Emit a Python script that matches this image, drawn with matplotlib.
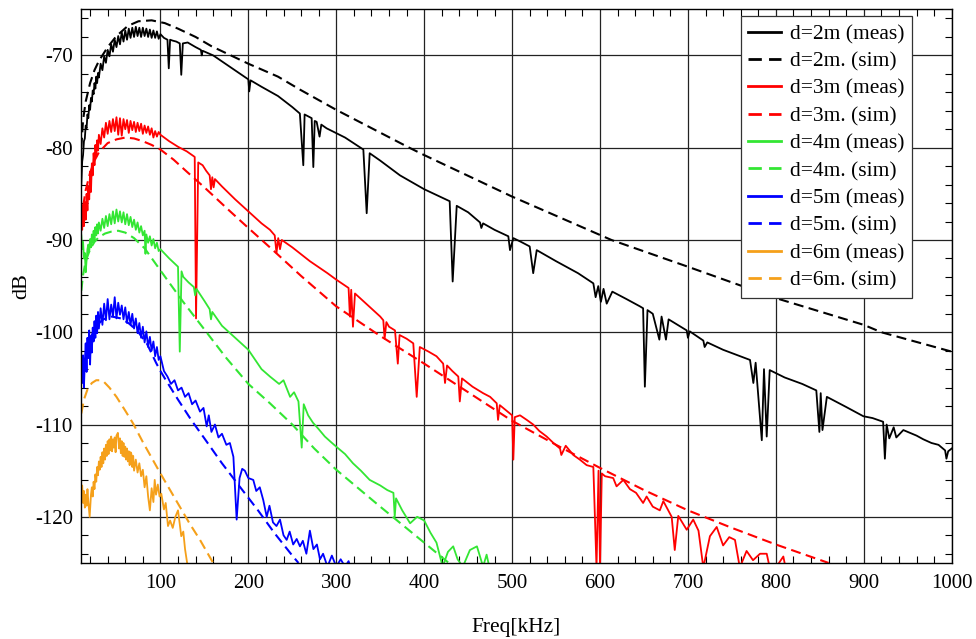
import matplotlib
matplotlib.use("Agg")
import matplotlib.pyplot as plt
from matplotlib.ticker import MultipleLocator

# ---- data (frequency in kHz, level in dB) ----
bk_meas_f = [10, 11, 12, 13, 14, 15, 16, 17, 18, 19, 20, 21, 22, 23, 24, 25, 26, 27, 28, 29, 30,
             32, 34, 36, 38, 40, 42, 44, 46, 48, 50, 52, 54, 56, 58, 60, 62, 64, 66, 68, 70,
             72, 74, 76, 78, 80, 82, 84, 86, 88, 90, 92, 94, 96, 98, 100,
             104, 108, 109.5, 111, 114, 118, 122, 123.7, 125.5, 131, 140, 146, 147, 148, 160,
             180, 200, 201, 202.5, 215, 233.7, 250, 258.6, 262.5, 264, 266, 272, 273.9, 275.5,
             277.7, 281, 283, 289, 310, 330.8, 334.6, 338, 350, 372.5, 400, 429, 432.4, 437,
             450, 463.5, 465, 467, 480, 495.7, 497.6, 501.4, 510, 520, 524, 528, 550, 575,
             592.4, 595, 598, 601, 604, 607.6, 614, 630, 645.5, 649, 651, 654, 660, 667.5,
             670, 675, 678, 690, 698.6, 700, 702, 717.5, 719, 722, 740, 770.6, 774.4, 777,
             784, 786.5, 789.6, 793, 810, 830, 846, 849.5, 851, 853, 858, 880, 899.5, 910,
             922, 924, 926, 929, 934, 937, 945, 960, 967.7, 977, 985, 992.5, 994, 996, 1000]
bk_meas_db = [-84.0, -81.5, -80.8, -79.3, -79.0, -77.6, -77.9, -76.4, -76.8, -75.4, -75.9, -74.6,
              -75.0, -73.8, -74.2, -73.0, -73.6, -72.3, -73.0, -71.9, -72.4,
              -70.9, -71.6, -70.1, -70.8, -69.4, -70.1, -68.8, -69.6, -68.3, -69.1, -67.9, -68.8,
              -67.5, -68.5, -67.3, -68.3, -67.1, -68.1, -67.0, -68.0,
              -66.9, -67.9, -67.0, -68.0, -67.0, -67.9, -67.1, -68.0, -67.2, -68.1, -67.3, -68.1,
              -67.4, -68.2, -67.7,
              -68.1, -68.3, -71.4, -68.3, -68.4, -68.5, -68.7, -72.1, -68.7, -68.6, -69.1, -69.4,
              -70.0, -69.5, -70.0,
              -71.3, -72.6, -73.9, -72.7, -73.4, -74.4, -75.6, -76.3, -81.9, -76.4, -76.5, -76.8,
              -82.1, -77.1,
              -77.2, -78.8, -77.5, -77.9, -78.9, -80.2, -87.1, -80.6, -81.4, -83.0, -84.5, -85.8,
              -94.5, -86.3,
              -87.0, -88.1, -88.7, -88.2, -88.9, -89.6, -91.1, -89.8, -90.2, -90.7, -93.6, -91.1,
              -92.3, -93.6,
              -94.7, -96.2, -95.0, -96.7, -95.3, -96.9, -95.6, -96.4, -97.2, -97.4, -105.9, -97.6,
              -98.0, -100.8,
              -98.3, -100.8, -98.6, -99.3, -99.8, -100.6, -99.9, -100.9, -101.6, -101.1, -101.9,
              -103.0, -105.5, -103.3,
              -111.7, -104.0, -111.3, -104.1, -104.9, -105.6, -106.3, -110.8, -106.6, -110.6,
              -107.0, -108.1, -109.1, -109.3,
              -109.7, -113.7, -110.0, -111.5, -110.3, -111.4, -110.6, -111.2, -111.6, -112.0,
              -112.2, -112.8, -113.7, -112.9, -112.6]

bk_sim_f = [10, 12, 15, 20, 25, 30, 40, 50, 63, 75, 90, 105, 120, 140, 158, 200, 233.7, 258.6,
            300, 383, 400, 500, 613, 700, 800, 900, 920, 1000]
bk_sim_db = [-80.0, -77.0, -75.0, -73.0, -71.6, -70.6, -69.1, -67.9, -66.8, -66.3, -66.2, -66.5,
             -67.1, -68.0, -69.0, -70.9, -72.3, -73.7, -75.9, -80.0, -80.8, -85.3, -90.0, -92.9,
             -96.3, -99.2, -100.0, -102.1]

rd_meas_f = [10, 11, 12, 13, 14, 15, 16, 17, 18, 19, 20, 21, 22, 23, 24, 25, 26, 27, 28, 29, 30,
             32, 34, 36, 38, 40, 42, 44, 46, 48, 50, 52, 54, 56, 58, 60, 62, 64, 66, 68, 70,
             72, 74, 76, 78, 80, 82, 84, 86, 88, 90, 92, 94, 96, 98, 100,
             110, 120, 130, 139, 140.5, 143, 148, 152, 156, 157.5, 159, 160.5, 162, 170, 185,
             200, 215, 224.6, 230, 232, 234, 236, 238, 250, 270, 290, 300, 314, 315.5, 317,
             319, 321.3, 335, 350, 353.5, 355, 357, 360, 366.8, 370, 372, 380, 387.6, 391.5,
             395, 405, 414, 421.6, 423.7, 426, 432, 438.8, 440.5, 443, 455, 467, 475, 482.5,
             484, 486, 495, 500, 501.4, 503,
             509, 516.7, 524, 531, 539.3, 547, 554.5, 556, 561, 569.6, 577, 584.8, 592.4, 596,
             598.3, 600, 602, 605.7, 615, 618.8, 626.5, 634, 641, 649, 653, 660, 668, 672,
             681.5, 685, 689, 698.6, 706, 712, 717.5, 725, 732.7, 740, 747, 753.5, 759, 766.7,
             774, 782, 789.6, 793, 800, 808.5, 811]
rd_meas_db = [-87.0, -88.9, -86.2, -88.5, -85.9, -87.8, -85.0, -86.8, -84.2, -85.6, -82.6, -84.8,
              -81.7, -83.0, -80.6, -81.9, -79.7, -81.0, -79.2, -80.3, -78.6,
              -79.6, -77.9, -78.9, -77.3, -78.5, -77.1, -78.3, -76.9, -78.2, -76.7, -78.6, -76.8,
              -78.7, -76.9, -78.0, -77.0, -78.4, -77.1, -78.1, -77.2,
              -78.3, -77.3, -78.2, -77.4, -78.5, -77.6, -78.4, -77.7, -78.6, -77.9, -78.9, -78.2,
              -78.8, -78.3, -78.6,
              -79.3, -79.9, -80.4, -81.0, -98.5, -81.6, -81.9, -82.5, -83.0, -84.5, -83.2, -84.3,
              -83.4, -84.2, -85.6,
              -86.9, -88.2, -88.9, -89.5, -91.4, -89.8, -91.0, -90.0, -90.8, -92.3, -93.6, -94.3,
              -95.2, -98.3, -95.4,
              -99.4, -95.8, -97.0, -98.3, -98.7, -100.7, -98.9, -99.4, -99.8, -103.4, -100.3,
              -100.7, -101.2, -107.0,
              -101.6, -102.1, -102.6, -103.4, -105.5, -103.6, -104.2, -104.8, -107.5, -105.0,
              -105.9, -106.6, -107.0, -107.7,
              -109.5, -107.9, -108.6, -109.0, -113.8, -109.2,
              -109.0, -109.5, -110.0, -110.7, -111.3, -112.0, -112.6, -113.3, -112.3, -113.3,
              -113.8, -114.4, -114.6, -125.5,
              -115.0, -125.5, -115.3, -115.6, -115.8, -116.7, -116.0, -117.0, -117.4, -118.5,
              -117.8, -118.9, -119.3, -118.3,
              -120.0, -123.6, -119.9, -121.4, -120.3, -121.5, -125.5, -122.1, -121.1, -123.1,
              -122.2, -122.5, -125.5, -123.7,
              -124.7, -124.0, -124.0, -125.5, -125.5, -124.3, -125.5]

rd_sim_f = [10, 12, 15, 20, 25, 30, 40, 50, 60, 70, 80, 90, 100, 115, 130, 150, 177, 200, 228,
            260, 300, 350, 400, 450, 500, 550, 600, 650, 700, 750, 800, 860]
rd_sim_db = [-88.0, -86.4, -84.6, -82.7, -81.4, -80.5, -79.5, -79.1, -78.9, -79.0, -79.3, -79.7,
             -80.2, -81.3, -82.6, -84.3, -86.7, -88.7, -91.1, -93.9, -97.2, -100.4, -103.4,
             -106.5, -109.6, -112.2, -114.7, -117.1, -119.3, -121.2, -123.0, -125.0]

gr_meas_f = [10, 11, 12, 13, 14, 15, 16, 17, 18, 19, 20, 21, 22, 23, 24, 25, 26, 27, 28, 29, 30,
             32, 34, 36, 38, 40, 42, 44, 46, 48, 50, 52, 54, 56, 58, 60, 62, 64, 66, 68, 70,
             72, 74, 76, 78, 80, 82, 83, 84, 86, 88, 90, 92, 94, 96, 98, 100,
             110, 120, 122, 124, 126, 132, 138, 139.5, 141, 150, 156, 157.5, 159, 170, 185,
             200, 215, 224.6, 235, 240, 247.5, 252, 257, 260.7, 263, 268, 273.5, 280, 287,
             294, 300, 310, 319, 328, 338, 350, 358, 365, 366.5, 368, 375, 384, 392, 400, 407,
             414, 421, 427, 433, 438, 444, 452, 460, 467, 471, 474]
gr_meas_db = [-89.5, -91.0, -90.2, -92.0, -91.4, -93.5, -92.2, -91.0, -90.5, -91.3, -89.9, -90.8,
              -89.4, -90.3, -89.0, -90.0, -88.6, -89.5, -88.3, -89.3, -88.1,
              -89.0, -87.7, -88.7, -87.4, -88.5, -87.2, -88.3, -86.9, -88.2, -86.7, -88.0, -86.9,
              -88.1, -87.0, -88.3, -87.2, -88.4, -87.5, -88.6, -87.8,
              -88.9, -88.1, -89.2, -88.5, -89.5, -89.0, -91.5, -89.4, -90.3, -89.6, -90.6, -89.9,
              -90.9, -90.3, -91.2, -91.0,
              -92.0, -92.9, -102.1, -93.4, -94.0, -94.6, -95.1, -96.0, -95.3, -96.6, -97.5, -98.6,
              -97.8, -99.3, -100.6,
              -101.9, -104.0, -104.8, -105.6, -105.2, -107.0, -106.5, -107.5, -112.5, -107.8,
              -109.0, -109.8, -110.5, -111.3,
              -111.9, -112.4, -113.2, -114.2, -115.0, -116.0, -116.6, -117.1, -117.4, -120.0,
              -118.0, -119.3, -120.7, -120.0, -120.4, -121.7,
              -122.8, -125.4, -123.8, -123.2, -124.6, -125.4, -123.6, -123.2, -125.4, -124.1,
              -125.4]

gr_sim_f = [10, 12, 15, 20, 25, 30, 37, 44, 52, 60, 70, 82, 100, 125, 150, 175, 200, 224.6, 250,
            275, 300, 350, 400, 428]
gr_sim_db = [-95.5, -93.8, -92.3, -91.0, -90.2, -89.7, -89.3, -89.1, -89.0, -89.2, -89.8, -90.9,
             -93.3, -96.6, -99.7, -102.8, -105.6, -107.7, -110.0, -112.6, -114.9, -118.9,
             -122.8, -125.0]

bl_meas_f = [10, 11, 12, 13, 14, 15, 16, 17, 18, 19, 20, 21, 22, 23, 24, 25, 26, 27, 28, 29, 30,
             32, 34, 36, 38, 40, 42, 44, 46, 48, 50, 52, 54, 56, 58, 60, 62, 64, 66, 68, 70,
             72, 74, 76, 78, 80, 82, 84, 86, 88, 90, 92, 94, 96, 98, 100,
             104, 108, 112, 116, 120, 124, 128, 132, 136, 140, 145, 149, 152.6, 155, 158, 162,
             166, 170, 175, 179, 183, 186.7, 190, 193, 196, 200, 205.6, 209, 213, 217, 220.9,
             224, 228, 232, 236, 240, 243.6, 247, 251, 255, 258.7, 262, 266, 270, 274, 278,
             281.5, 285, 290, 295, 300, 305, 310, 314, 316]
bl_meas_db = [-103.0, -105.5, -102.5, -106.0, -103.2, -101.2, -104.3, -100.6, -102.8, -99.8,
              -103.5, -100.4, -102.2, -99.5, -101.0, -98.8, -100.6, -98.2, -100.1, -97.8, -99.6,
              -97.4, -99.2, -96.9, -98.7, -96.4, -98.6, -97.0, -98.3, -96.2, -98.5, -96.8, -98.1,
              -97.1, -98.6, -97.3, -99.0, -97.8, -99.2, -98.0, -99.6,
              -98.5, -100.1, -99.0, -100.6, -99.4, -101.1, -99.9, -101.6, -100.5, -102.0, -101.0,
              -102.6, -101.6, -103.0, -102.6,
              -104.2, -104.8, -105.6, -105.2, -106.3, -106.0, -107.0, -106.6, -107.8, -107.4,
              -108.6, -108.2, -110.2, -109.0, -110.8, -110.0,
              -111.4, -111.0, -112.2, -112.0, -113.5, -120.3, -115.8, -114.8, -115.0, -115.8,
              -116.0, -117.2, -116.8, -118.2, -120.0,
              -118.8, -120.6, -121.0, -120.3, -122.0, -122.5, -121.6, -123.0, -122.4, -123.2,
              -122.6, -124.0, -121.5, -123.5, -123.0,
              -124.6, -124.0, -125.4, -124.2, -125.4, -124.6, -125.4, -124.8, -125.4]

bl_sim_f = [10, 13, 17, 22, 28, 35, 45, 55, 65, 75, 85, 95, 100, 105, 120, 135, 150, 170, 190,
            211, 230, 250, 257]
bl_sim_db = [-105.5, -103.5, -101.8, -100.3, -99.2, -98.6, -98.3, -98.5, -99.1, -100.0, -101.3,
             -103.3, -104.2, -105.0, -107.3, -109.5, -111.5, -114.2, -116.7, -119.3, -121.8,
             -124.2, -125.0]

or_meas_f = [10, 11, 12, 13, 14, 15, 16, 17, 18, 19.5, 21, 22, 23, 24, 25, 26, 27, 28, 29, 30,
             31, 32, 33, 34, 35, 36, 37, 38, 39, 40, 41, 42, 43, 44, 45, 46, 47, 48, 49, 50,
             51.6, 53, 54, 55, 56, 57, 58, 59, 60, 61, 62, 63, 64, 65, 66, 67, 68, 69, 70,
             72, 74, 76, 78, 80, 82, 84, 86, 88, 90, 92, 93.5, 95, 97, 99, 101, 104, 106,
             108.6, 111, 114, 117, 120, 122, 123.7, 126, 128, 131]
or_meas_db = [-117.4, -116.6, -118.5, -117.2, -119.0, -117.6, -118.8, -117.0, -118.4, -120.0,
              -117.6, -116.8, -117.8, -116.2, -117.0, -115.4, -116.2, -114.6, -115.5, -114.0,
              -114.9, -113.5, -114.6, -113.0, -114.2, -112.6, -113.8, -112.2, -113.4, -111.8,
              -113.2, -111.6, -112.8, -111.3, -112.9, -111.6, -112.5, -111.4, -113.0, -111.2,
              -110.9, -112.6, -111.5, -113.1, -111.8, -113.4, -112.0, -113.5, -112.4, -113.8,
              -112.6, -114.0, -112.9, -114.4, -113.0, -113.2, -114.6, -113.4, -115.0,
              -113.8, -115.2, -114.2, -115.6, -114.9, -116.8, -115.6, -117.8, -119.3, -116.9,
              -118.4, -116.0, -117.6, -116.5, -117.8, -117.5, -119.2, -118.5,
              -121.0, -120.4, -121.2, -120.0, -119.3, -120.8, -122.1, -121.6, -123.5, -125.4]

or_sim_f = [10, 13, 17, 22, 27, 31, 36, 42, 50, 60, 69, 80, 90, 100, 111, 122, 133, 145, 160]
or_sim_db = [-108.8, -107.3, -106.2, -105.5, -105.2, -105.2, -105.4, -106.0, -107.0, -108.5,
             -109.9, -111.9, -113.6, -115.3, -117.1, -118.9, -120.7, -122.5, -125.0]

distances = ["2", "3", "4", "5", "6"]
colors = ["black", "#ff0000", "#33e633", "#0000ff", "#f5a01a"]

plt.rcParams["font.family"] = ["Liberation Serif", "DejaVu Serif"]
plt.rcParams["axes.unicode_minus"] = False

fig = plt.figure(figsize=(9.76, 6.39), dpi=100)
ax = fig.add_axes([0.0833, 0.119, 0.8918, 0.8665])

series = [
    (bk_meas_f, bk_meas_db, bk_sim_f, bk_sim_db),
    (rd_meas_f, rd_meas_db, rd_sim_f, rd_sim_db),
    (gr_meas_f, gr_meas_db, gr_sim_f, gr_sim_db),
    (bl_meas_f, bl_meas_db, bl_sim_f, bl_sim_db),
    (or_meas_f, or_meas_db, or_sim_f, or_sim_db),
]

for d, c, (mf, mdb, sf, sdb) in zip(distances, colors, series):
    ax.plot(mf, mdb, color=c, lw=1.3, label=f"d={d}m (meas)")
    ax.plot(sf, sdb, color=c, lw=1.5, dashes=(4.8, 2.6), label=f"d={d}m. (sim)")

ax.set_xlim(10, 1000)
ax.set_ylim(-125, -65)
ax.xaxis.set_major_locator(MultipleLocator(100))
ax.xaxis.set_minor_locator(MultipleLocator(20))
ax.yaxis.set_major_locator(MultipleLocator(10))
ax.yaxis.set_minor_locator(MultipleLocator(2))
ax.grid(True, which="major", color="#222222", lw=0.9)
ax.tick_params(which="both", direction="in", top=True, right=True, labelsize=15)
ax.tick_params(axis="x", which="major", length=0, pad=8)
ax.tick_params(axis="y", which="major", length=0, pad=6)
ax.tick_params(which="minor", length=5, width=0.8)
for s in ax.spines.values():
    s.set_linewidth(1.0)

ax.set_xlabel("Freq[kHz]", fontsize=15.5, va="center")
ax.xaxis.set_label_coords(0.5, -0.117)
ax.set_ylabel("dB", fontsize=16, va="center")
ax.yaxis.set_label_coords(-0.068, 0.5)

leg = ax.legend(loc="upper right", bbox_to_anchor=(0.954, 0.987), borderaxespad=0,
                fontsize=15.5, fancybox=False, framealpha=1, edgecolor="#333333",
                handlelength=1.5, labelspacing=0.34, borderpad=0.35, handletextpad=0.42)
leg.get_frame().set_linewidth(0.9)
for h in leg.get_lines():
    h.set_linewidth(2.0)

fig.savefig("out.png", dpi=100)
